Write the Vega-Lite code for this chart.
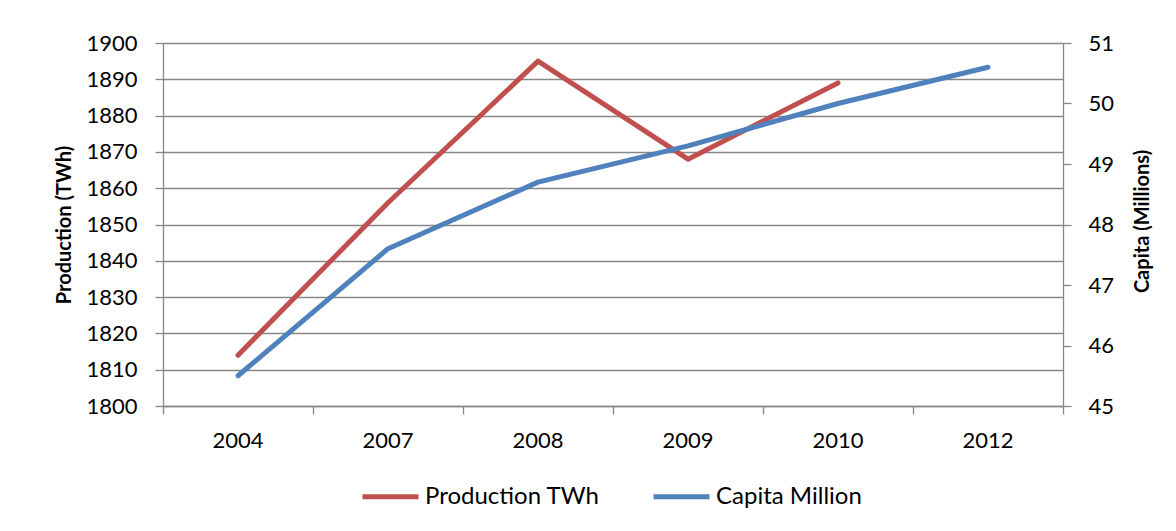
{
  "$schema": "https://vega.github.io/schema/vega-lite/v6.json",
  "width": 900,
  "height": 363,
  "autosize": "none",
  "padding": {"left": 163, "top": 43, "right": 113, "bottom": 125},
  "background": "white",
  "config": {
    "font": "Lato",
    "view": {"stroke": null},
    "axis": {
      "domainColor": "#878787",
      "domainWidth": 1.3,
      "tickColor": "#878787",
      "tickWidth": 1.3,
      "tickSize": 8,
      "gridColor": "#878787",
      "gridWidth": 1.3,
      "labelFont": "Lato",
      "labelFontSize": 22,
      "labelColor": "#000000",
      "titleFont": "Lato",
      "titleFontSize": 20,
      "titleFontWeight": "bold",
      "titleColor": "#000000"
    }
  },
  "data": {
    "values": [
      {"year": "2004", "production": 1814, "capita": 45.5},
      {"year": "2007", "production": 1856, "capita": 47.6},
      {"year": "2008", "production": 1895, "capita": 48.7},
      {"year": "2009", "production": 1868, "capita": 49.3},
      {"year": "2010", "production": 1889, "capita": 50.0},
      {"year": "2012", "production": null, "capita": 50.6}
    ]
  },
  "encoding": {
    "x": {
      "field": "year",
      "type": "ordinal",
      "bandPosition": 0.5,
      "scale": {"type": "band", "paddingInner": 0, "paddingOuter": 0},
      "axis": {
        "title": null,
        "labelAngle": 0,
        "labelPadding": 16,
        "bandPosition": 1,
        "tickExtra": true,
        "grid": false
      }
    }
  },
  "layer": [
    {
      "mark": {"type": "line", "strokeWidth": 5, "strokeCap": "round", "strokeJoin": "round"},
      "encoding": {
        "y": {
          "field": "production",
          "type": "quantitative",
          "scale": {"domain": [1800, 1900], "nice": false, "zero": false},
          "axis": {
            "orient": "left",
            "title": "Production (TWh)",
            "format": "d",
            "values": [1800, 1810, 1820, 1830, 1840, 1850, 1860, 1870, 1880, 1890, 1900],
            "grid": true,
            "labelPadding": 18,
            "titlePadding": 11
          }
        },
        "color": {
          "datum": "Production TWh",
          "type": "nominal",
          "scale": {"domain": ["Production TWh", "Capita Million"], "range": ["#C0504D", "#4F81BD"]},
          "legend": {
            "title": null,
            "orient": "none",
            "direction": "horizontal",
            "legendX": 197,
            "legendY": 423,
            "symbolType": "stroke",
            "symbolSize": 3136,
            "symbolStrokeWidth": 5,
            "labelFont": "Lato",
            "labelFontSize": 24,
            "labelColor": "#000000",
            "labelLimit": 400,
            "labelOffset": 4,
            "columnPadding": 43
          }
        }
      }
    },
    {
      "mark": {"type": "line", "strokeWidth": 5, "strokeCap": "round", "strokeJoin": "round"},
      "encoding": {
        "y": {
          "field": "capita",
          "type": "quantitative",
          "scale": {"domain": [45, 51], "nice": false, "zero": false},
          "axis": {
            "orient": "right",
            "title": "Capita (Millions)",
            "titleAngle": 270,
            "titleAlign": "center",
            "titleBaseline": "alphabetic",
            "titleX": 85,
            "titleY": 178,
            "values": [45, 46, 47, 48, 49, 50, 51],
            "grid": false,
            "labelPadding": 17
          }
        },
        "color": {"datum": "Capita Million", "type": "nominal"}
      }
    }
  ],
  "resolve": {"scale": {"y": "independent"}}
}
